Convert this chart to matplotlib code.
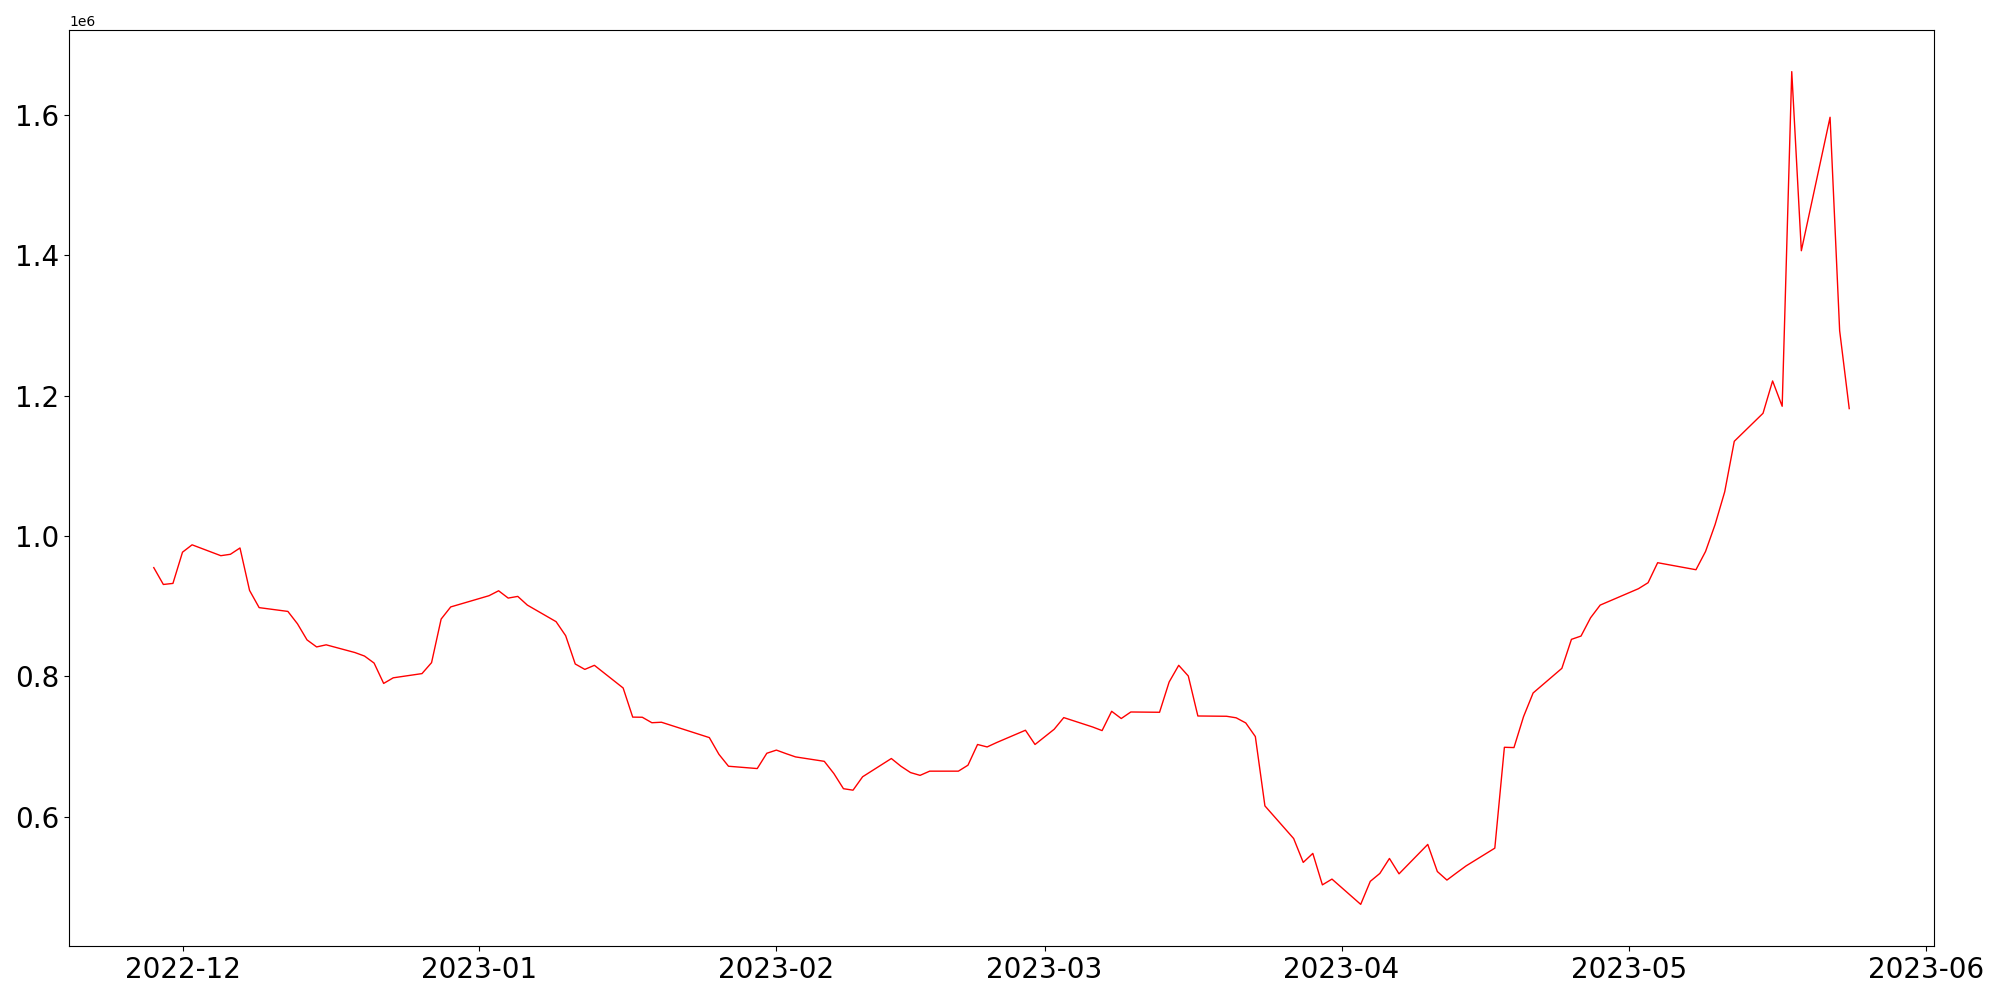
import matplotlib
matplotlib.use("Agg")
import matplotlib.pyplot as plt
import pandas as pd

# Korean exchange trading days (weekdays minus market holidays)
start_date = "2022-11-28"
end_date = "2023-05-24"
holidays = ["2022-12-30", "2023-01-23", "2023-01-24", "2023-03-01",
            "2023-05-01", "2023-05-05"]

# values in millions
values_m = [
    # Nov
    0.955, 0.931, 0.9325,
    # Dec
    0.977, 0.9875, 0.972, 0.974, 0.983, 0.9225, 0.898, 0.8926, 0.875, 0.852,
    0.842, 0.845, 0.834, 0.829, 0.819, 0.790, 0.798, 0.804, 0.8196, 0.8817, 0.899,
    # Jan
    0.915, 0.922, 0.9116, 0.914, 0.9016, 0.878, 0.858, 0.8177, 0.810, 0.8158,
    0.7835, 0.742, 0.7418, 0.734, 0.7347, 0.7128, 0.689, 0.672, 0.6687, 0.6905,
    # Feb
    0.695, 0.690, 0.6853, 0.679, 0.6616, 0.640, 0.6379, 0.657, 0.683, 0.672,
    0.663, 0.659, 0.665, 0.665, 0.6735, 0.703, 0.6995, 0.7058, 0.7233, 0.703,
    # Mar
    0.7247, 0.7413, 0.728, 0.7228, 0.7503, 0.740, 0.7493, 0.7489, 0.792, 0.8158,
    0.8006, 0.7436, 0.7432, 0.741, 0.7337, 0.7143, 0.6155, 0.569, 0.535, 0.5478,
    0.503, 0.5112,
    # Apr
    0.4752, 0.508, 0.5193, 0.5406, 0.5187, 0.5606, 0.522, 0.5098, 0.520, 0.530,
    0.5553, 0.699, 0.6986, 0.7427, 0.7764, 0.8115, 0.8528, 0.8575, 0.8836, 0.9016,
    # May
    0.925, 0.9335, 0.962, 0.952, 0.978, 1.0165, 1.063, 1.135, 1.1749, 1.221,
    1.1849, 1.6617, 1.4065, 1.5967, 1.2926, 1.1816,
]

dates = pd.bdate_range(start_date, end_date, freq="C", holidays=holidays)
values = [v * 1e6 for v in values_m]
assert len(dates) == len(values), (len(dates), len(values))

fig = plt.figure(figsize=(20, 10), dpi=100)
ax = fig.add_axes([0.0345, 0.054, 0.9325, 0.916])
ax.plot(dates, values, color="red", linewidth=1.0)
ax.tick_params(axis="both", labelsize=20)
ax.yaxis.get_offset_text().set_fontsize(10)
fig.savefig("out.png", dpi=100)
